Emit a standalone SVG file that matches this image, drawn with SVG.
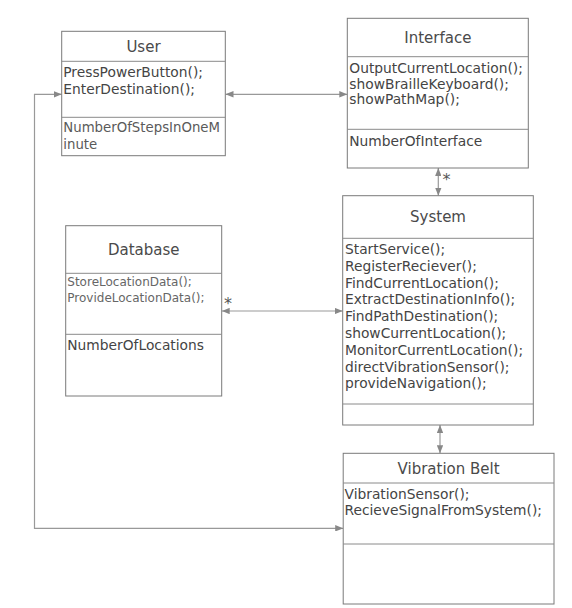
<svg xmlns="http://www.w3.org/2000/svg" width="572" height="608" viewBox="0 0 572 608">
<style>
.box{fill:#fff;stroke:#7a7a7a;stroke-width:1}
.div{stroke:#8a8a8a;stroke-width:1}
.title{font-family:"DejaVu Sans",Verdana,sans-serif;font-size:15px;fill:#4a4a4a;text-anchor:middle}
.m{font-family:"DejaVu Sans",Verdana,sans-serif;font-size:13.8px;fill:#444}
.a{font-family:"DejaVu Sans",Verdana,sans-serif;font-size:13.3px;fill:#5a5a5a}
.s{font-family:"DejaVu Sans",Verdana,sans-serif;font-size:12px;fill:#666}
.conn{fill:none;stroke:#999;stroke-width:1.2}
.mult{font-family:"DejaVu Sans",Verdana,sans-serif;font-size:16px;fill:#555}
</style>
<defs>
<marker id="ah" viewBox="0 0 10 8" refX="10" refY="4" markerWidth="8" markerHeight="6.4" markerUnits="userSpaceOnUse" orient="auto-start-reverse">
<path d="M0,0 L10,4 L0,8 Z" fill="#888"/>
</marker>
</defs>
<rect width="572" height="608" fill="#fff"/>
<g id="connectors">
<path class="conn" d="M225.5,94.3 L347.3,94.3" marker-start="url(#ah)" marker-end="url(#ah)"/>
<path class="conn" d="M438.3,168 L438.3,195.7" marker-start="url(#ah)" marker-end="url(#ah)"/>
<path class="conn" d="M221.7,311 L342.7,311" marker-start="url(#ah)" marker-end="url(#ah)"/>
<path class="conn" d="M440,425 L440,453.3" marker-start="url(#ah)" marker-end="url(#ah)"/>
<path class="conn" d="M61.7,94.3 L34.5,94.3 L34.5,528.3 L343.2,528.3" marker-start="url(#ah)" marker-end="url(#ah)"/>
<text class="mult" x="442.5" y="185">*</text>
<text class="mult" x="224" y="309">*</text>
</g>
<g id="user">
<rect class="box" x="61.7" y="31.3" width="163.6" height="124.4"/>
<line class="div" x1="61.7" y1="61.3" x2="225.3" y2="61.3"/>
<line class="div" x1="61.7" y1="117.3" x2="225.3" y2="117.3"/>
<text class="title" x="143.5" y="51.5">User</text>
<text class="m" x="63.3" y="77">PressPowerButton();</text>
<text class="m" x="63.3" y="94">EnterDestination();</text>
<text class="a" x="63.3" y="131.5">NumberOfStepsInOneM</text>
<text class="a" x="63.3" y="148.5">inute</text>
</g>
<g id="interface">
<rect class="box" x="347.3" y="18.3" width="181" height="149.7"/>
<line class="div" x1="347.3" y1="56.7" x2="528.3" y2="56.7"/>
<line class="div" x1="347.3" y1="129.3" x2="528.3" y2="129.3"/>
<text class="title" x="437.8" y="42.5">Interface</text>
<text class="m" x="349.3" y="72.8">OutputCurrentLocation();</text>
<text class="m" x="349.3" y="88.6">showBrailleKeyboard();</text>
<text class="m" x="349.3" y="104.4">showPathMap();</text>
<text class="m" x="349.3" y="145.8">NumberOfInterface</text>
</g>
<g id="database">
<rect class="box" x="65.7" y="225.7" width="156" height="170.3"/>
<line class="div" x1="65.7" y1="273.3" x2="221.7" y2="273.3"/>
<line class="div" x1="65.7" y1="334.3" x2="221.7" y2="334.3"/>
<text class="title" x="143.7" y="254.5">Database</text>
<text class="s" x="67.3" y="286">StoreLocationData();</text>
<text class="s" x="67.3" y="301.7">ProvideLocationData();</text>
<text class="m" x="67.3" y="349.5">NumberOfLocations</text>
</g>
<g id="system">
<rect class="box" x="342.7" y="195.7" width="190.6" height="229.3"/>
<line class="div" x1="342.7" y1="238.3" x2="533.3" y2="238.3"/>
<line class="div" x1="342.7" y1="404" x2="533.3" y2="404"/>
<text class="title" x="438" y="222">System</text>
<text class="m" x="345" y="254">StartService();</text>
<text class="m" x="345" y="270.8">RegisterReciever();</text>
<text class="m" x="345" y="287.6">FindCurrentLocation();</text>
<text class="m" x="345" y="304.4">ExtractDestinationInfo();</text>
<text class="m" x="345" y="321.2">FindPathDestination();</text>
<text class="m" x="345" y="338">showCurrentLocation();</text>
<text class="m" x="345" y="354.8">MonitorCurrentLocation();</text>
<text class="m" x="345" y="371.6">directVibrationSensor();</text>
<text class="m" x="345" y="388.4">provideNavigation();</text>
</g>
<g id="vibration-belt">
<rect class="box" x="343.2" y="453.3" width="210.8" height="150.7"/>
<line class="div" x1="343.2" y1="483" x2="554" y2="483"/>
<line class="div" x1="343.2" y1="544" x2="554" y2="544"/>
<text class="title" x="448.6" y="473.5">Vibration Belt</text>
<text class="m" x="344.5" y="498.5">VibrationSensor();</text>
<text class="m" x="344.5" y="515.2">RecieveSignalFromSystem();</text>
</g>
</svg>
